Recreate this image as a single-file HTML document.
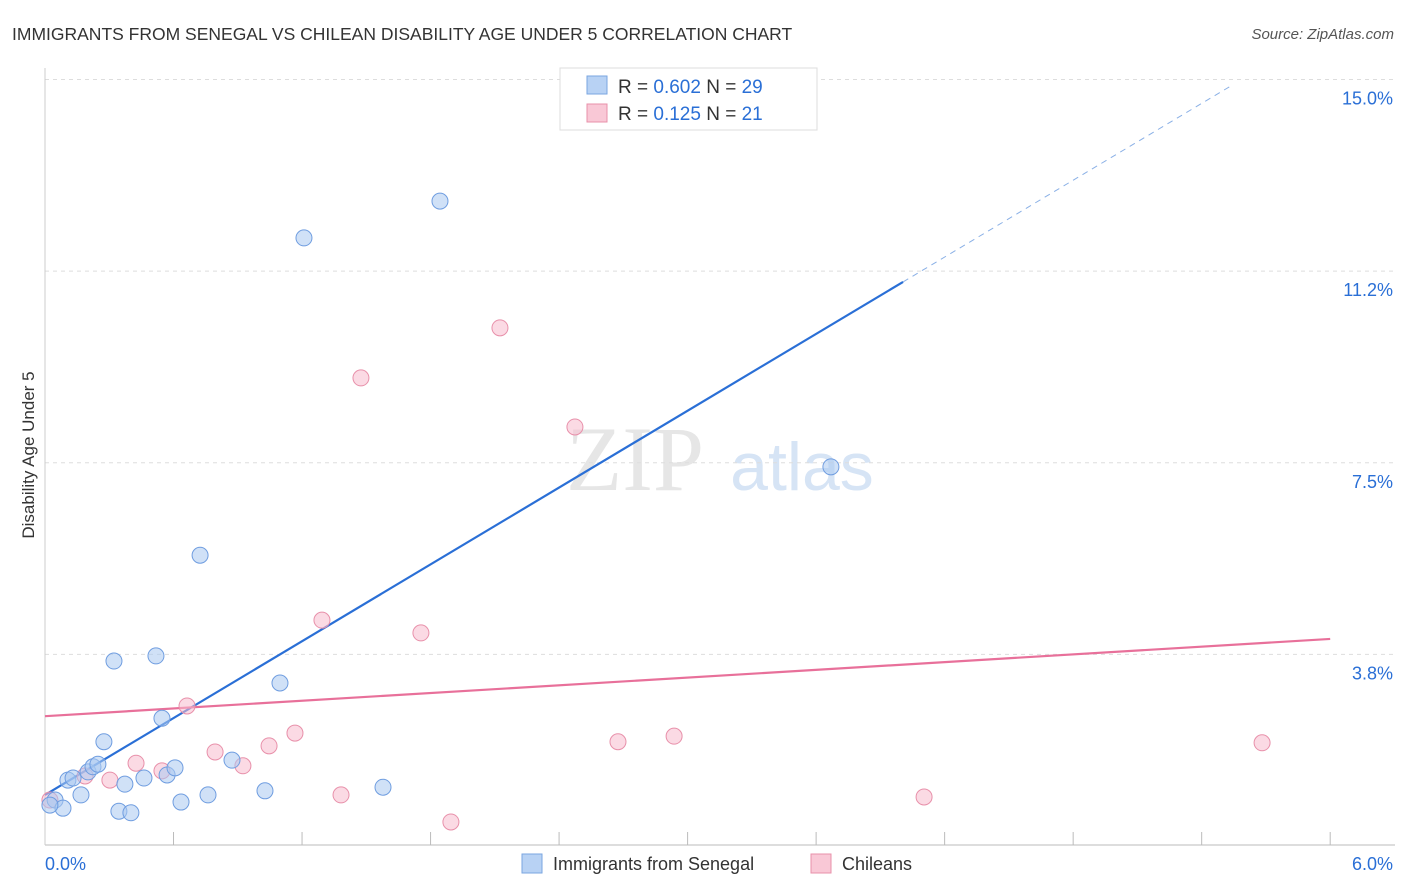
<!DOCTYPE html>
<html><head><meta charset="utf-8"><style>
body{margin:0;background:#fff;font-family:"Liberation Sans",sans-serif;}
#wrap{position:relative;width:1406px;height:892px;overflow:hidden;}
</style></head><body>
<div id="wrap">
<svg id="svg" width="1406" height="892" xmlns="http://www.w3.org/2000/svg">
<text x="12" y="40" font-size="17.5" fill="#333">IMMIGRANTS FROM SENEGAL VS CHILEAN DISABILITY AGE UNDER 5 CORRELATION CHART</text>
<text x="1394" y="39" font-size="15" fill="#555" font-style="italic" text-anchor="end">Source: ZipAtlas.com</text>
<text x="34" y="455" font-size="17" fill="#333" text-anchor="middle" transform="rotate(-90 34 455)">Disability Age Under 5</text>
<g>
<text x="635" y="490" font-size="92" fill="#e6e6e6" font-family="Liberation Serif,serif" text-anchor="middle">ZIP</text>
<text x="802" y="490" font-size="68" fill="#d6e4f5" text-anchor="middle">atlas</text>
</g>
<g id="grid"></g><g id="axes"></g><g id="lines"></g><g id="pts"></g>
<g>
<rect x="560" y="68" width="257" height="62" fill="#fff" stroke="#ddd"/>
<rect x="587" y="76" width="20" height="18" fill="#b8d2f4" stroke="#7aa6e0"/>
<rect x="587" y="104" width="20" height="18" fill="#f9c8d6" stroke="#e890aa"/>
<text x="618" y="93" font-size="19" fill="#333">R = <tspan fill="#2a6fd6">0.602</tspan>   N = <tspan fill="#2a6fd6">29</tspan></text>
<text x="618" y="120" font-size="19" fill="#333">R =  <tspan fill="#2a6fd6">0.125</tspan>   N =  <tspan fill="#2a6fd6">21</tspan></text>
</g>
<g>
<rect x="522" y="854" width="20" height="19" fill="#b8d2f4" stroke="#7aa6e0"/>
<text x="553" y="870" font-size="18" fill="#333">Immigrants from Senegal</text>
<rect x="811" y="854" width="20" height="19" fill="#f9c8d6" stroke="#e890aa"/>
<text x="842" y="870" font-size="18" fill="#333">Chileans</text>
</g>
</svg>
</div>
<script>
const yTicks=[3.75,7.5,11.25,15.0];
const yTickLabels=["3.8%","7.5%","11.2%","15.0%"];
const xTicks=[0.6,1.2,1.8,2.4,3.0,3.6,4.2,4.8,5.4,6.0];
const xTickLabels=["0.0%","6.0%"];
const blueX=[0.047,0.084,0.107,0.131,0.168,0.201,0.224,0.247,0.275,0.322,0.345,0.373,0.401,0.462,0.518,0.546,0.570,0.607,0.635,0.724,0.761,0.873,1.027,1.097,1.209,1.578,1.844,3.669,0.023];
const blueY=[0.90,0.74,1.29,1.33,1.00,1.45,1.55,1.60,2.04,3.62,0.68,1.21,0.65,1.33,3.72,2.50,1.39,1.53,0.86,5.69,1.00,1.68,1.08,3.19,11.90,1.15,12.62,7.42,0.80];
const pinkX=[0.023,0.187,0.303,0.425,0.546,0.663,0.794,0.924,1.046,1.167,1.293,1.382,1.475,1.755,1.895,2.124,2.474,2.675,2.937,4.104,5.682];
const pinkY=[0.90,1.37,1.29,1.62,1.47,2.74,1.84,1.57,1.96,2.21,4.42,1.00,9.16,4.17,0.47,10.14,8.20,2.04,2.15,0.96,2.02];
const blueFit=[1.0,2.506];
const pinkFit=[2.54,0.252];
const X=v=>45+v*214.2, Y=v=>846-v*51.1;
const NS="http://www.w3.org/2000/svg";
function mk(t,a,p){const e=document.createElementNS(NS,t);for(const k in a)e.setAttribute(k,a[k]);p.appendChild(e);return e;}
const grid=document.getElementById('grid'),axes=document.getElementById('axes'),lines=document.getElementById('lines'),pts=document.getElementById('pts');
yTicks.forEach((v,i)=>{
 const l=mk('line',{x1:45,x2:1395,y1:Y(v),y2:Y(v),stroke:'#ddd','stroke-dasharray':'4,4'},grid);
 
 
 const t=mk('text',{x:1393,y:Y(v)+25,'font-size':18,fill:'#2a6fd6','text-anchor':'end'},axes);
 t.textContent=yTickLabels[i];
 
 
});
const ax=mk('line',{x1:45,x2:1395,y1:845,y2:845,stroke:'#bbb'},axes);


const ay=mk('line',{x1:45,x2:45,y1:68,y2:845,stroke:'#ccc'},axes);


xTicks.forEach(v=>{
 const l=mk('line',{x1:X(v),x2:X(v),y1:832,y2:845,stroke:'#bbb'},axes);
 
 
});
[[0,'start',45],[6,'end',1393]].forEach((d,i)=>{
 const t=mk('text',{x:d[2],y:870,'font-size':18,fill:'#2a6fd6','text-anchor':d[1]},axes);
 t.textContent=xTickLabels[i];
 
 
});
function drawPts(xs,ys,fill,stroke,name){
 xs.forEach((x,i)=>{
  const c=mk('circle',{cx:X(x),cy:Y(ys[i]),r:8,fill:fill,'fill-opacity':0.55,stroke:stroke,'stroke-width':1},pts);
  
  
 });
}
drawPts(pinkX,pinkY,'#f7bccd','#e890aa','point-chileans');
drawPts(blueX,blueY,'#a9c8f0','#6f9de0','point-senegal');
const bx1=4.006,bx2=5.542;
const b1=mk('line',{x1:X(0),y1:Y(blueFit[0]),x2:X(bx1),y2:Y(blueFit[0]+blueFit[1]*bx1),stroke:'#2a6fd6','stroke-width':2.2},lines);


const b2=mk('line',{x1:X(bx1),y1:Y(blueFit[0]+blueFit[1]*bx1),x2:X(bx2),y2:Y(blueFit[0]+blueFit[1]*bx2),stroke:'#8ab0e6','stroke-width':1,'stroke-dasharray':'6,5'},lines);


const p1=mk('line',{x1:X(0),y1:Y(pinkFit[0]),x2:X(6),y2:Y(pinkFit[0]+pinkFit[1]*6),stroke:'#e8709a','stroke-width':2.2},lines);


</script>
</body></html>
